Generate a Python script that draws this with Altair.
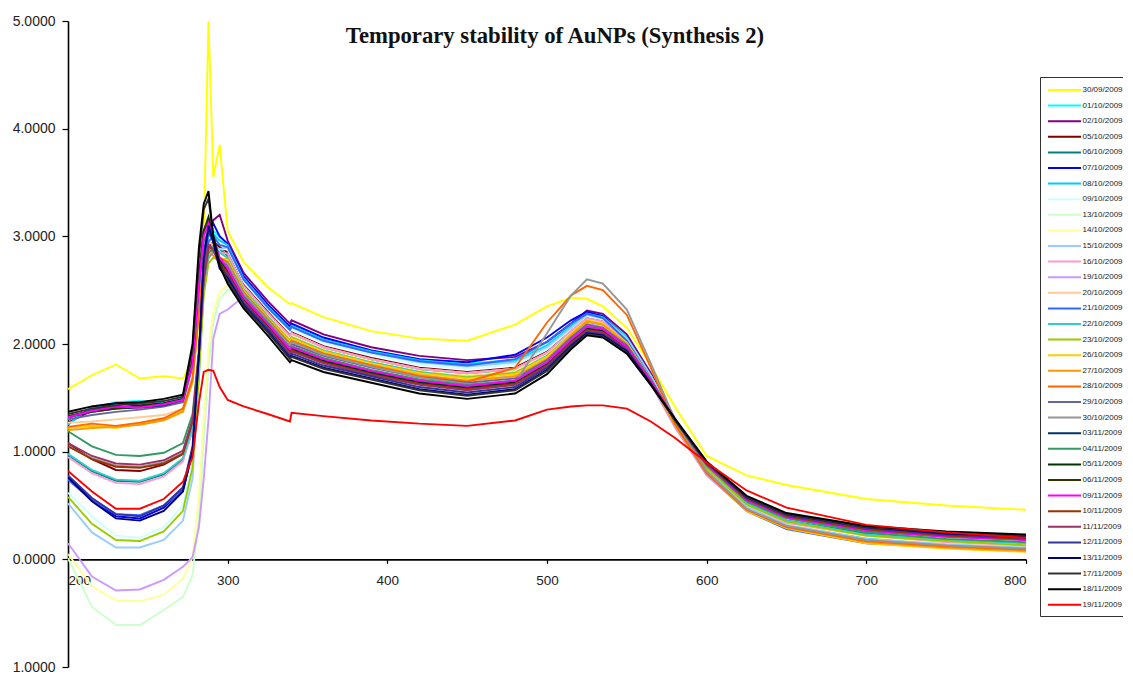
import altair as alt
import pandas as pd

TITLE = "Temporary stability of AuNPs (Synthesis 2)"

WAVELENGTH = [200, 215, 230, 245, 260, 272, 278, 282, 285, 288, 291, 295, 300, 310, 325, 339, 340,
              360, 390, 420, 450, 480, 500, 515, 525, 535, 550, 565, 580, 600, 625, 650, 700, 750, 800]

DATES = ["30/09/2009", "01/10/2009", "02/10/2009", "05/10/2009", "06/10/2009", "07/10/2009",
         "08/10/2009", "09/10/2009", "13/10/2009", "14/10/2009", "15/10/2009", "16/10/2009",
         "19/10/2009", "20/10/2009", "21/10/2009", "22/10/2009", "23/10/2009", "26/10/2009",
         "27/10/2009", "28/10/2009", "29/10/2009", "30/10/2009", "03/11/2009", "04/11/2009",
         "05/11/2009", "06/11/2009", "09/11/2009", "10/11/2009", "11/11/2009", "12/11/2009",
         "13/11/2009", "17/11/2009", "18/11/2009", "19/11/2009"]

COLORS = ["#FFFF00", "#00FFFF", "#800080", "#800000", "#008080", "#0000FF",
          "#00CCFF", "#CCFFFF", "#CCFFCC", "#FFFF99", "#99CCFF", "#FF99CC",
          "#CC99FF", "#FFCC99", "#3366FF", "#33CCCC", "#99CC00", "#FFCC00",
          "#FF9900", "#FF6600", "#666699", "#969696", "#003366", "#339966",
          "#003300", "#333300", "#FF00FF", "#993300", "#993366", "#333399",
          "#000080", "#333333", "#000000", "#FF0000"]

s3009 = [1.58, 1.71, 1.81, 1.68, 1.70, 1.68, 1.85, 2.00, 3.00, 5.00, 3.55, 3.85, 3.05, 2.76, 2.53, 2.37, 2.38, 2.25, 2.12, 2.05, 2.03, 2.18, 2.35, 2.43, 2.42, 2.35, 2.15, 1.80, 1.42, 0.96, 0.78, 0.69, 0.56, 0.50, 0.46]
s0110 = [1.30, 1.40, 1.46, 1.47, 1.45, 1.50, 1.85, 2.50, 2.90, 3.05, 3.05, 3.00, 2.93, 2.62, 2.36, 2.15, 2.18, 2.05, 1.94, 1.86, 1.82, 1.85, 1.99, 2.17, 2.29, 2.26, 2.07, 1.71, 1.30, 0.85, 0.50, 0.33, 0.20, 0.14, 0.11]
s0210 = [1.27, 1.38, 1.45, 1.43, 1.44, 1.48, 1.80, 2.45, 2.85, 3.05, 3.15, 3.20, 2.96, 2.66, 2.40, 2.19, 2.22, 2.09, 1.97, 1.89, 1.85, 1.88, 2.02, 2.19, 2.31, 2.28, 2.09, 1.73, 1.31, 0.86, 0.51, 0.34, 0.21, 0.15, 0.12]
s0510 = [1.08, 0.93, 0.83, 0.82, 0.88, 0.98, 1.25, 1.90, 2.60, 2.90, 2.95, 2.90, 2.85, 2.55, 2.30, 2.08, 2.11, 1.98, 1.87, 1.78, 1.74, 1.78, 1.93, 2.12, 2.24, 2.21, 2.03, 1.69, 1.29, 0.86, 0.52, 0.35, 0.23, 0.17, 0.14]
s0610 = [0.97, 0.82, 0.73, 0.72, 0.79, 0.93, 1.20, 1.85, 2.55, 2.85, 2.92, 2.88, 2.82, 2.53, 2.28, 2.06, 2.09, 1.96, 1.85, 1.76, 1.72, 1.76, 1.91, 2.11, 2.23, 2.20, 2.02, 1.69, 1.30, 0.87, 0.53, 0.36, 0.24, 0.18, 0.15]
s0710 = [0.76, 0.55, 0.40, 0.38, 0.48, 0.65, 1.00, 1.85, 2.70, 3.05, 3.12, 3.00, 2.93, 2.63, 2.37, 2.16, 2.19, 2.06, 1.94, 1.86, 1.83, 1.90, 2.06, 2.22, 2.30, 2.26, 2.05, 1.69, 1.27, 0.81, 0.46, 0.29, 0.16, 0.12, 0.10]
s0810 = [1.25, 1.42, 1.45, 1.46, 1.43, 1.47, 1.80, 2.45, 2.85, 3.00, 3.02, 2.96, 2.92, 2.61, 2.35, 2.14, 2.17, 2.04, 1.93, 1.85, 1.81, 1.84, 1.98, 2.16, 2.28, 2.25, 2.06, 1.71, 1.30, 0.85, 0.50, 0.33, 0.20, 0.15, 0.12]
s0910 = [0.62, 0.40, 0.22, 0.20, 0.30, 0.50, 0.90, 1.70, 2.50, 2.85, 2.90, 2.88, 2.88, 2.58, 2.33, 2.11, 2.14, 2.01, 1.90, 1.81, 1.77, 1.81, 1.95, 2.14, 2.26, 2.23, 2.05, 1.70, 1.30, 0.85, 0.51, 0.34, 0.22, 0.16, 0.13]
s1310 = [0.01, -0.44, -0.61, -0.61, -0.47, -0.35, -0.15, 0.40, 1.10, 1.80, 2.20, 2.42, 2.50, 2.50, 2.28, 2.07, 2.10, 1.97, 1.86, 1.77, 1.73, 1.77, 1.92, 2.11, 2.23, 2.20, 2.02, 1.68, 1.29, 0.85, 0.51, 0.34, 0.22, 0.16, 0.13]
s1410 = [0.05, -0.25, -0.38, -0.39, -0.33, -0.18, 0.02, 0.60, 1.30, 1.95, 2.30, 2.48, 2.55, 2.52, 2.27, 2.05, 2.08, 1.95, 1.84, 1.75, 1.71, 1.75, 1.90, 2.10, 2.22, 2.19, 2.01, 1.67, 1.28, 0.83, 0.49, 0.33, 0.21, 0.15, 0.12]
s1510 = [0.52, 0.25, 0.11, 0.11, 0.18, 0.36, 0.75, 1.70, 2.55, 2.85, 2.90, 2.88, 2.90, 2.60, 2.34, 2.13, 2.16, 2.03, 1.92, 1.83, 1.79, 1.83, 1.97, 2.15, 2.27, 2.24, 2.05, 1.70, 1.29, 0.84, 0.49, 0.32, 0.19, 0.14, 0.11]
s1610 = [0.95, 0.80, 0.71, 0.70, 0.77, 0.91, 1.20, 1.85, 2.50, 2.80, 2.88, 2.85, 2.84, 2.54, 2.29, 2.07, 2.10, 1.97, 1.86, 1.77, 1.73, 1.77, 1.92, 2.12, 2.24, 2.21, 2.03, 1.69, 1.29, 0.85, 0.51, 0.34, 0.22, 0.16, 0.13]
s1910 = [0.15, -0.16, -0.29, -0.28, -0.19, -0.07, 0.02, 0.30, 0.75, 1.30, 2.05, 2.28, 2.32, 2.44, 2.22, 2.01, 2.04, 1.92, 1.81, 1.71, 1.66, 1.70, 1.86, 2.07, 2.19, 2.16, 1.98, 1.63, 1.23, 0.78, 0.45, 0.30, 0.18, 0.13, 0.10]
s2010 = [1.27, 1.28, 1.30, 1.32, 1.34, 1.40, 1.70, 2.35, 2.80, 2.95, 2.92, 2.85, 2.80, 2.51, 2.26, 2.04, 2.07, 1.94, 1.83, 1.74, 1.70, 1.74, 1.89, 2.09, 2.21, 2.18, 2.01, 1.67, 1.28, 0.85, 0.51, 0.35, 0.22, 0.17, 0.14]
s2110 = [0.74, 0.55, 0.42, 0.41, 0.50, 0.64, 1.00, 1.80, 2.60, 2.95, 3.00, 2.92, 2.90, 2.60, 2.34, 2.13, 2.16, 2.03, 1.92, 1.84, 1.80, 1.86, 2.02, 2.19, 2.28, 2.24, 2.03, 1.68, 1.26, 0.80, 0.45, 0.28, 0.15, 0.11, 0.09]
s2210 = [0.98, 0.83, 0.74, 0.73, 0.80, 0.94, 1.22, 1.85, 2.55, 2.85, 2.90, 2.85, 2.80, 2.51, 2.26, 2.03, 2.06, 1.94, 1.83, 1.74, 1.69, 1.73, 1.89, 2.09, 2.21, 2.18, 2.01, 1.68, 1.29, 0.86, 0.52, 0.36, 0.23, 0.18, 0.15]
s2310 = [0.58, 0.33, 0.18, 0.17, 0.26, 0.45, 0.85, 1.70, 2.45, 2.75, 2.80, 2.78, 2.79, 2.50, 2.25, 2.03, 2.06, 1.93, 1.82, 1.73, 1.69, 1.73, 1.88, 2.09, 2.21, 2.18, 2.00, 1.67, 1.28, 0.85, 0.51, 0.35, 0.22, 0.17, 0.13]
s2610 = [1.22, 1.24, 1.22, 1.26, 1.30, 1.38, 1.65, 2.30, 2.75, 2.88, 2.85, 2.80, 2.78, 2.49, 2.24, 2.02, 2.05, 1.93, 1.82, 1.73, 1.68, 1.72, 1.88, 2.09, 2.22, 2.19, 2.01, 1.66, 1.25, 0.80, 0.45, 0.29, 0.15, 0.10, 0.07]
s2710 = [1.20, 1.22, 1.23, 1.25, 1.29, 1.37, 1.65, 2.30, 2.72, 2.85, 2.82, 2.77, 2.76, 2.48, 2.23, 2.00, 2.03, 1.91, 1.80, 1.71, 1.66, 1.70, 1.86, 2.08, 2.21, 2.18, 2.00, 1.65, 1.25, 0.80, 0.46, 0.30, 0.16, 0.11, 0.08]
s2810 = [1.23, 1.26, 1.24, 1.27, 1.31, 1.40, 1.68, 2.30, 2.75, 2.88, 2.85, 2.80, 2.76, 2.48, 2.23, 2.00, 2.03, 1.91, 1.80, 1.70, 1.65, 1.78, 2.20, 2.45, 2.54, 2.50, 2.27, 1.78, 1.26, 0.80, 0.46, 0.30, 0.17, 0.12, 0.09]
s2910 = [1.30, 1.34, 1.37, 1.39, 1.42, 1.46, 1.80, 2.50, 2.95, 3.05, 2.95, 2.80, 2.73, 2.46, 2.21, 1.98, 2.00, 1.89, 1.78, 1.69, 1.64, 1.68, 1.85, 2.06, 2.18, 2.15, 1.99, 1.67, 1.30, 0.88, 0.55, 0.39, 0.26, 0.21, 0.18]
s3010 = [1.05, 0.94, 0.87, 0.86, 0.90, 0.99, 1.28, 1.90, 2.55, 2.80, 2.85, 2.78, 2.75, 2.47, 2.22, 1.99, 2.02, 1.90, 1.79, 1.69, 1.63, 1.64, 2.10, 2.45, 2.60, 2.56, 2.32, 1.82, 1.30, 0.82, 0.47, 0.31, 0.18, 0.13, 0.10]
s0311 = [1.32, 1.37, 1.40, 1.41, 1.43, 1.48, 1.85, 2.60, 3.05, 3.15, 2.98, 2.78, 2.68, 2.42, 2.18, 1.94, 1.96, 1.85, 1.74, 1.65, 1.60, 1.65, 1.82, 2.03, 2.15, 2.13, 1.97, 1.65, 1.30, 0.89, 0.56, 0.40, 0.28, 0.22, 0.19]
s0411 = [1.19, 1.05, 0.97, 0.96, 0.99, 1.08, 1.35, 1.95, 2.60, 2.85, 2.88, 2.78, 2.70, 2.44, 2.20, 1.96, 1.98, 1.87, 1.76, 1.67, 1.62, 1.66, 1.83, 2.04, 2.16, 2.14, 1.97, 1.65, 1.29, 0.87, 0.54, 0.38, 0.25, 0.19, 0.16]
s0511 = [1.33, 1.38, 1.41, 1.43, 1.45, 1.49, 1.85, 2.60, 3.05, 3.18, 3.00, 2.78, 2.68, 2.42, 2.17, 1.93, 1.95, 1.84, 1.73, 1.64, 1.59, 1.64, 1.81, 2.02, 2.14, 2.12, 1.96, 1.65, 1.30, 0.89, 0.56, 0.40, 0.28, 0.22, 0.19]
s0611 = [1.33, 1.37, 1.40, 1.42, 1.44, 1.48, 1.85, 2.60, 3.05, 3.15, 2.95, 2.75, 2.66, 2.40, 2.16, 1.92, 1.94, 1.83, 1.72, 1.63, 1.58, 1.63, 1.80, 2.01, 2.13, 2.11, 1.95, 1.64, 1.30, 0.89, 0.56, 0.40, 0.28, 0.22, 0.19]
s0911 = [1.32, 1.38, 1.42, 1.41, 1.44, 1.48, 1.82, 2.55, 3.00, 3.12, 2.98, 2.80, 2.70, 2.43, 2.19, 1.95, 1.97, 1.86, 1.75, 1.66, 1.61, 1.66, 1.83, 2.04, 2.16, 2.14, 1.97, 1.66, 1.30, 0.88, 0.55, 0.39, 0.27, 0.21, 0.18]
s1011 = [1.05, 0.93, 0.86, 0.85, 0.89, 0.98, 1.28, 1.90, 2.60, 2.90, 2.88, 2.75, 2.66, 2.40, 2.16, 1.92, 1.94, 1.83, 1.72, 1.63, 1.58, 1.63, 1.80, 2.01, 2.13, 2.11, 1.95, 1.64, 1.30, 0.89, 0.56, 0.40, 0.28, 0.22, 0.19]
s1111 = [1.08, 0.96, 0.89, 0.88, 0.92, 1.01, 1.30, 1.92, 2.62, 2.92, 2.88, 2.72, 2.65, 2.39, 2.15, 1.91, 1.93, 1.82, 1.71, 1.62, 1.57, 1.62, 1.79, 2.00, 2.12, 2.10, 1.95, 1.64, 1.30, 0.89, 0.57, 0.41, 0.29, 0.23, 0.20]
s1211 = [0.78, 0.57, 0.42, 0.40, 0.50, 0.67, 1.05, 1.90, 2.75, 3.05, 2.95, 2.72, 2.63, 2.38, 2.14, 1.89, 1.91, 1.80, 1.70, 1.60, 1.55, 1.60, 1.78, 1.99, 2.11, 2.09, 1.94, 1.63, 1.30, 0.90, 0.57, 0.41, 0.29, 0.23, 0.20]
s1311 = [0.76, 0.54, 0.38, 0.36, 0.45, 0.63, 1.00, 1.90, 2.80, 3.10, 2.95, 2.70, 2.61, 2.36, 2.12, 1.87, 1.89, 1.78, 1.68, 1.58, 1.53, 1.58, 1.76, 1.98, 2.10, 2.08, 1.93, 1.63, 1.30, 0.90, 0.58, 0.42, 0.30, 0.24, 0.21]
s1711 = [1.35, 1.40, 1.43, 1.45, 1.47, 1.51, 1.95, 2.80, 3.25, 3.35, 3.00, 2.75, 2.59, 2.35, 2.11, 1.86, 1.88, 1.77, 1.67, 1.57, 1.52, 1.57, 1.75, 1.97, 2.09, 2.07, 1.92, 1.62, 1.30, 0.90, 0.58, 0.42, 0.30, 0.25, 0.22]
s1811 = [1.37, 1.42, 1.45, 1.46, 1.49, 1.53, 2.00, 2.90, 3.30, 3.42, 3.00, 2.72, 2.56, 2.33, 2.08, 1.83, 1.85, 1.74, 1.64, 1.54, 1.49, 1.54, 1.72, 1.95, 2.08, 2.06, 1.91, 1.62, 1.31, 0.91, 0.59, 0.43, 0.31, 0.26, 0.23]
s1911 = [0.82, 0.63, 0.47, 0.47, 0.56, 0.72, 0.95, 1.45, 1.74, 1.76, 1.75, 1.60, 1.48, 1.42, 1.35, 1.28, 1.36, 1.33, 1.29, 1.26, 1.24, 1.29, 1.39, 1.42, 1.43, 1.43, 1.40, 1.28, 1.13, 0.90, 0.64, 0.48, 0.32, 0.25, 0.20]

SERIES = [s3009, s0110, s0210, s0510, s0610, s0710, s0810, s0910, s1310, s1410, s1510, s1610,
          s1910, s2010, s2110, s2210, s2310, s2610, s2710, s2810, s2910, s3010, s0311, s0411,
          s0511, s0611, s0911, s1011, s1111, s1211, s1311, s1711, s1811, s1911]

rows = []
for order, (date, vals) in enumerate(zip(DATES, SERIES)):
    for w, v in zip(WAVELENGTH, vals):
        rows.append({"date": date, "order": order, "nm": w, "abs": v})
df = pd.DataFrame(rows)

PLOT_W = 958
PLOT_H = 646

chart = alt.Chart(df).mark_line(strokeWidth=1.9, clip=True).encode(
    x=alt.X("nm:Q",
            scale=alt.Scale(domain=[200, 800], nice=False, zero=False),
            axis=alt.Axis(values=[200, 300, 400, 500, 600, 700, 800], title=None, grid=False,
                          orient="bottom", offset=-PLOT_H / 6, domainColor="#000", domainWidth=1.6,
                          tickColor="#000", tickSize=4, tickWidth=1.2, labelPadding=10,
                          labelFont="Liberation Sans", labelFontSize=13.5, labelColor="#222")),
    y=alt.Y("abs:Q",
            scale=alt.Scale(domain=[-1, 5], nice=False, zero=False),
            axis=alt.Axis(values=[-1, 0, 1, 2, 3, 4, 5], title=None, grid=False,
                          labelExpr="format(abs(datum.value), '.4f')",
                          domainColor="#000", domainWidth=1.6, tickColor="#000", tickSize=6,
                          tickWidth=1.2, labelPadding=7, labelFont="Liberation Sans",
                          labelFontSize=14, labelColor="#222")),
    color=alt.Color("date:N", sort=DATES, title=None,
                    scale=alt.Scale(domain=DATES, range=COLORS),
                    legend=alt.Legend(orient="none", legendX=972, legendY=56,
                                      symbolType="M-3.3,0H3.3", symbolSize=100,
                                      symbolStrokeWidth=2, symbolOffset=11.5, labelOffset=12,
                                      labelFont="Liberation Sans", labelFontSize=8,
                                      labelColor="#222", labelLimit=200, symbolLimit=60,
                                      rowPadding=5.6, padding=7, strokeColor="#333",
                                      fillColor="white")),
    order=alt.Order("order:Q"),
).properties(
    width=PLOT_W,
    height=PLOT_H,
    title=alt.TitleParams(TITLE, font="Liberation Serif", fontSize=22.7, fontWeight="bold",
                          anchor="middle", offset=-34, dx=8, color="#111"),
    autosize=alt.AutoSizeParams(type="none"),
    padding={"left": 60, "top": 13, "right": 97, "bottom": 9},
).configure_view(stroke=None)

chart.save("out.html", embed_options={"renderer": "svg", "actions": False})
